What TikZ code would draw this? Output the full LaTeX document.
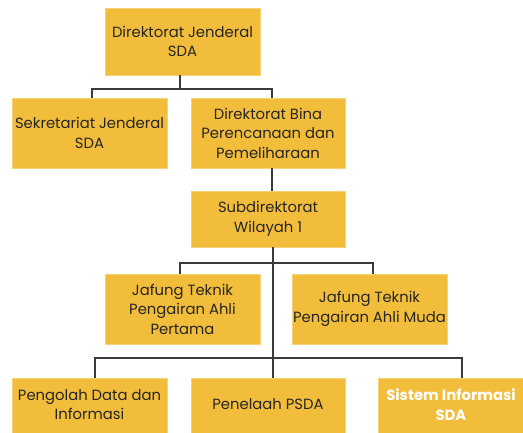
\documentclass[tikz,border=0pt]{standalone}
\usepackage{fontspec}
\setmainfont{Poppins}
\definecolor{boxyellow}{HTML}{F3BD3C}
\definecolor{linegray}{HTML}{3A3A3A}
\begin{document}
\begin{tikzpicture}[x=1pt,y=-1pt,
  orgbox/.style={fill=boxyellow,draw=boxyellow!70!white,line width=0.6pt,inner sep=0pt,align=center,font=\fontsize{14.8}{19.5}\selectfont,text=black!85},
  boxtext/.style={font=\fontsize{14.8}{19.5}\selectfont,text=black!85,align=center,inner sep=0pt},
  link/.style={draw=linegray,line width=1.1pt}]
\useasboundingbox (0,0) rectangle (523,432);
% boxes
\node[orgbox,minimum width=155pt,minimum height=67pt] (dj) at (182.5,41.5) {Direktorat Jenderal\\SDA};
\node[orgbox,minimum width=155pt,minimum height=70pt] (sk) at (89.5,133) {Sekretariat Jenderal\\SDA};
\node[orgbox,minimum width=154pt,minimum height=70pt] (db) at (268,133) {Direktorat Bina\\Perencanaan dan\\Pemeliharaan};
\node[orgbox,minimum width=154pt,minimum height=56pt] (sd) at (268,219) {Subdirektorat\\Wilayah 1};
\node[orgbox,minimum width=155pt,minimum height=70pt] (jp) at (182.5,309) {Jafung Teknik\\Pengairan Ahli\\Pertama};
\node[orgbox,minimum width=155pt,minimum height=70pt] (jm) at (369.5,309) {Jafung Teknik\\Pengairan Ahli Muda};
\node[orgbox,minimum width=155pt,minimum height=60pt,anchor=north] (pd) at (89.5,378) {};
\node[orgbox,minimum width=154pt,minimum height=60pt,anchor=north] (pe) at (268,378) {};
\node[orgbox,minimum width=150pt,minimum height=60pt,anchor=north west] (si) at (377.5,378) {};
\node[boxtext] (pdt) at (89.5,404.5) {Pengolah Data dan\\Informasi};
\node[boxtext] (pet) at (268,404.5) {Penelaah PSDA};
\node[boxtext,font=\fontsize{14.8}{19.5}\selectfont\bfseries,text=white] (sit) at (451,404.5) {Sistem Informasi\\SDA};
% connectors
\coordinate (j1) at (180,89);
\draw[link] (dj.south -| j1) -- (j1);
\draw[link] (sk.north -| 92,0) -- (92,89) -- (272,89) -- (db.north -| 272,0);
\draw[link] (db.south -| 272,0) -- (sd.north -| 272,0);
\draw[link] (sd.south -| 273,0) -- (pe.north -| 273,0);
\draw[link] (jp.north -| 180,0) -- (180,263) -- (373,263) -- (jm.north -| 373,0);
\draw[link] (pd.north -| 95,0) -- (95,358) -- (462,358) -- (si.north -| 462,0);
\end{tikzpicture}
\end{document}
